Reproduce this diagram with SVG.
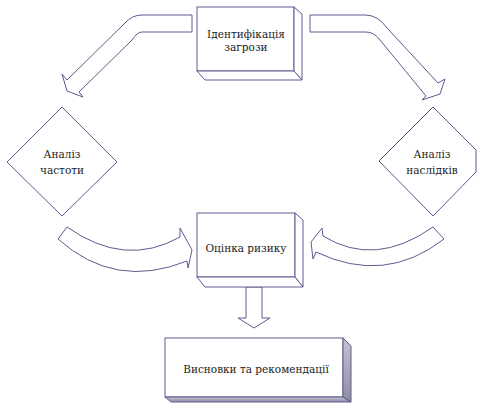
<svg xmlns="http://www.w3.org/2000/svg" width="478" height="403" viewBox="0 0 478 403">
<style>
.s{fill:#fff;stroke:#5f5a8e;stroke-width:1;stroke-linejoin:miter}
.g{fill:url(#gr);stroke:#5f5a8e;stroke-width:1}
text{font-family:'DejaVu Serif',serif;font-size:10.5px;fill:#222;text-anchor:middle}
</style>
<defs>
<linearGradient id="gr" x1="0" y1="0" x2="0" y2="1">
<stop offset="0" stop-color="#c4c3cf"/>
<stop offset="1" stop-color="#8e8ca4"/>
</linearGradient>
</defs>
<g id="connectors">
<path class="s" d="M192,15 L142,15 Q132,15 125,23 L67,80 L62,74 L67,91 L83,97 L79,92 L132,40 Q137,32 142,32 L192,32 Z"/>
<path class="s" d="M310,15 L365,15 Q378,15 387,28 L438,83 L445,79 L440,94 L422,100 L426,96 L380,40 Q374,32 366,32 L310,32 Z"/>
<path class="s" d="M67,227 Q125,268 180,237 L180,228 L192,250 L188,268 L187,261 Q115,290 58,239 Z"/>
<path class="s" d="M433,227 Q375,268 323,236 L322,228 L311,242 L313,259 L316,252 Q385,285 444,239 Z"/>
<path class="s" d="M246,287 L246,318 L238,318 L254,328 L270,318 L262,318 L262,287 Z"/>
</g>
<g id="n1">
<rect class="s" x="197" y="7" width="97" height="64"/>
<path class="s" d="M294,7 L302,14 L302,80 L294,71 Z"/>
<path class="s" d="M197,71 L294,71 L302,80 L205,80 Z"/>
<text x="246" y="38">Ідентифікація</text>
<text x="246" y="51">загрози</text>
</g>
<g id="n2">
<polygon class="s" points="62,107 117,162 62,216 7,162"/>
<text x="62" y="158">Аналіз</text>
<text x="62" y="174">частоти</text>
</g>
<g id="n3">
<polygon class="s" points="433,107 476,150 476,172 433,216 379,161"/>
<text x="432" y="158">Аналіз</text>
<text x="432" y="174">наслідків</text>
</g>
<g id="n4">
<rect class="s" x="197" y="213" width="98" height="64"/>
<path class="s" d="M295,213 L303,220 L303,287 L295,277 Z"/>
<path class="s" d="M197,277 L295,277 L303,287 L205,287 Z"/>
<text x="246" y="252">Оцінка ризику</text>
</g>
<g id="n5">
<rect class="s" x="165" y="338" width="178" height="59"/>
<path class="g" d="M343,338 L351,346 L351,402 L343,397 Z"/>
<path class="g" d="M165,397 L343,397 L351,402 L171,402 Z"/>
<text x="256" y="373">Висновки та рекомендації</text>
</g>
</svg>
